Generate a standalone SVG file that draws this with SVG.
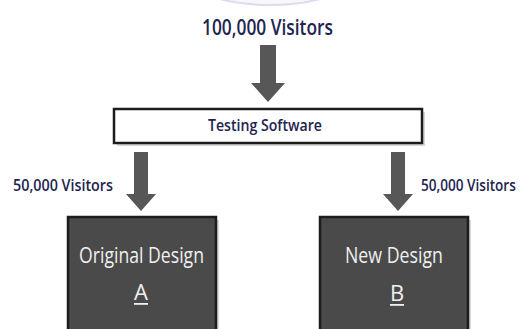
<svg xmlns="http://www.w3.org/2000/svg" width="523" height="329" viewBox="0 0 523 329">
<defs>
<style>
.lbl{font-family:"Open Sans","Liberation Sans",Arial,sans-serif;font-weight:600;fill:#1e2450;}
.box{fill:#4a4a4a;stroke:#1c1c1c;stroke-width:2.5;}
.shadow{fill:#bdbdbd;opacity:0.6;}
.btxt{font-family:"Open Sans","Liberation Sans",Arial,sans-serif;font-weight:500;fill:#f0f0f0;font-size:22px;text-anchor:middle;}
.arrow{fill:#575757;}
</style>
</defs>
<rect x="0" y="0" width="523" height="329" fill="#ffffff"/>
<ellipse cx="270" cy="-60" rx="118" ry="65" fill="#f7f7fc" stroke="#dcdcf0" stroke-width="2"/>
<g id="connectors">
<polygon class="arrow" points="260,45 276,45 276,83 285,83 268,102 251,83 260,83"/>
<polygon class="arrow" points="134,152 148,152 148,194 156,194 141,211 126,194 134,194"/>
<polygon class="arrow" points="391,152 405,152 405,194 413,194 398,211 383,194 391,194"/>
</g>
<g id="label-top">
<text class="lbl" x="202" y="35" font-size="22" textLength="131" lengthAdjust="spacingAndGlyphs">100,000 Visitors</text>
</g>
<g id="label-left">
<text class="lbl" x="13" y="191" font-size="17" textLength="100" lengthAdjust="spacingAndGlyphs">50,000 Visitors</text>
</g>
<g id="label-right">
<text class="lbl" transform="translate(421,191) scale(0.8,1)" font-size="17">50,000 Visitors</text>
</g>
<g id="testing-software">
<rect class="shadow" x="117" y="112" width="308" height="34"/>
<rect x="114" y="109" width="308" height="34" fill="#ffffff" stroke="#1c1c1c" stroke-width="2.5"/>
<text class="lbl" x="208" y="131" font-size="16" textLength="114" lengthAdjust="spacingAndGlyphs">Testing Software</text>
</g>
<g id="original-design">
<rect class="shadow" x="71" y="220" width="148" height="112"/>
<rect class="box" x="68" y="217" width="148" height="114"/>
<text class="btxt" x="141.5" y="263" textLength="125" lengthAdjust="spacingAndGlyphs">Original Design</text>
<text class="btxt" x="141" y="300">A</text>
<rect x="134" y="303" width="14" height="1.8" fill="#f0f0f0"/>
</g>
<g id="new-design">
<rect class="shadow" x="323" y="220" width="148" height="112"/>
<rect class="box" x="320" y="217" width="148" height="114"/>
<text class="btxt" x="394" y="263" textLength="98" lengthAdjust="spacingAndGlyphs">New Design</text>
<text class="btxt" x="397" y="301">B</text>
<rect x="390" y="304" width="14" height="1.8" fill="#f0f0f0"/>
</g>
</svg>
